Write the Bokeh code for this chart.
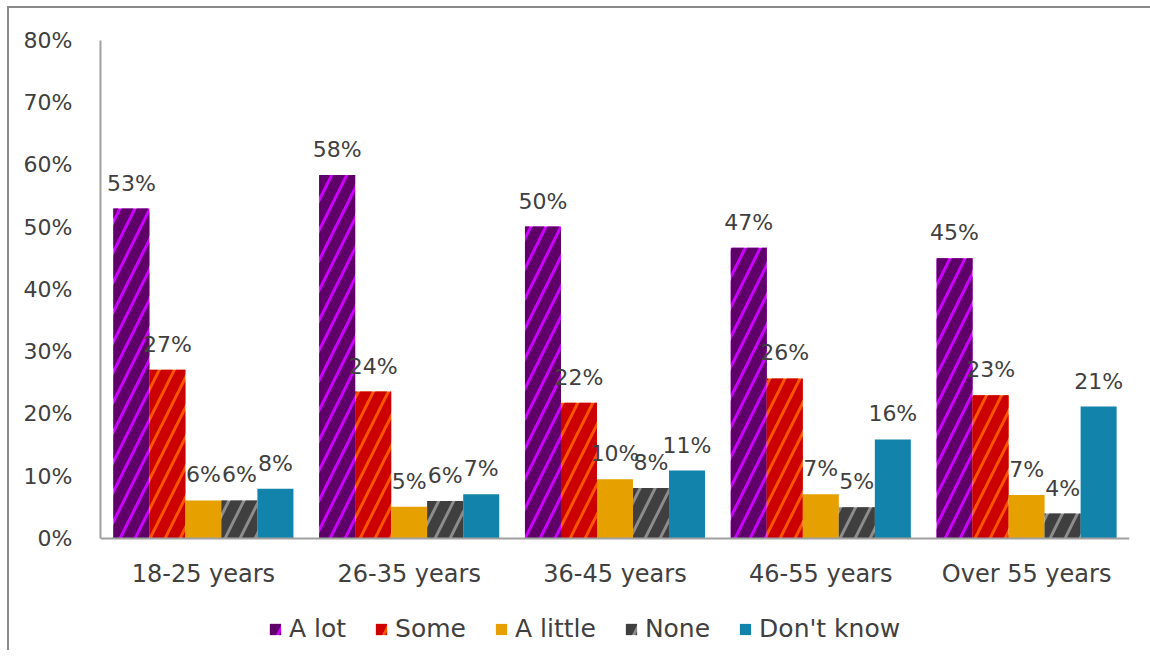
from bokeh.plotting import figure
from bokeh.models import ColumnDataSource, FactorRange, Legend, LegendItem, PrintfTickFormatter, FixedTicker
from bokeh.transform import dodge
from bokeh.core.properties import value
from bokeh.embed import file_html
from bokeh.resources import INLINE

categories = ["18-25 years", "26-35 years", "36-45 years", "46-55 years", "Over 55 years"]
series = ["A lot", "Some", "A little", "None", "Don't know"]
a_lot = [53.0, 58.4, 50.1, 46.7, 45.0]
some = [27.1, 23.6, 21.8, 25.7, 23.0]
a_little = [6.1, 5.1, 9.5, 7.1, 7.0]
none = [6.1, 6.0, 8.1, 5.0, 4.0]
dont_know = [8.0, 7.1, 10.9, 15.9, 21.2]
y_ticks = [0, 10, 20, 30, 40, 50, 60, 70, 80]

values = [a_lot, some, a_little, none, dont_know]
fills = ["#CC00FF", "#FF5500", "#E6A000", "#8C8C8C", "#1283AB"]
hatch_colors = ["#5E0068", "#CC0000", None, "#3F3F3F", None]
offsets = [-0.35, -0.175, 0.0, 0.175, 0.35]
bw = 0.175

FONT = "DejaVu Sans"
TXT = "#404040"

p = figure(x_range=FactorRange(*categories, range_padding=0), y_range=(-18, 80),
           frame_width=1029, frame_height=610, output_backend="svg", toolbar_location=None,
           min_border_left=91, min_border_right=21, min_border_top=32, min_border_bottom=0)
p.styles = {"border-left": "2px solid #8a8a8a", "border-top": "2px solid #8a8a8a",
            "margin-left": "7px", "margin-top": "6px"}
p.outline_line_color = None
p.xgrid.visible = False
p.ygrid.visible = False
p.background_fill_color = "white"

items = []
for s, vals, fc, hc, off in zip(series, values, fills, hatch_colors, offsets):
    src = ColumnDataSource(dict(cat=categories, val=vals, lab=[f"{round(v)}%" for v in vals]))
    kw = {}
    if hc:
        kw = dict(hatch_pattern="/", hatch_color=hc, hatch_scale=30, hatch_weight=10.5)
    r = p.vbar(x=dodge("cat", off, range=p.x_range), top="val", width=bw, source=src,
               fill_color=fc, line_color=None, **kw)
    p.text(x=dodge("cat", off, range=p.x_range), y="val", text="lab", source=src,
           text_align="center", text_baseline="bottom", y_offset=-13,
           text_font=value(FONT), text_font_size="22px", text_color=TXT)
    items.append(LegendItem(label=s, renderers=[r]))

p.yaxis.ticker = FixedTicker(ticks=y_ticks)
p.yaxis.formatter = PrintfTickFormatter(format="%d%%")
p.yaxis.bounds = (0, 80)
p.xaxis.fixed_location = 0
for ax in (p.xaxis, p.yaxis):
    ax.axis_line_color = "#A0A0A0"
    ax.axis_line_width = 2
    ax.major_tick_line_color = None
    ax.minor_tick_line_color = None
    ax.major_label_text_font = FONT
    ax.major_label_text_color = TXT
p.yaxis.major_label_text_font_size = "22px"
p.xaxis.major_label_text_font_size = "24px"
p.yaxis.major_label_standoff = 22
p.xaxis.major_label_standoff = 16

legend = Legend(items=items, orientation="horizontal", location=(168, 7),
                label_text_font=FONT, label_text_font_size="25px", label_text_color=TXT,
                glyph_width=14, glyph_height=14, spacing=28, label_standoff=7,
                border_line_color=None, background_fill_alpha=0, margin=0, padding=0)
p.add_layout(legend)

open("out.html", "w").write(file_html(p, INLINE))
